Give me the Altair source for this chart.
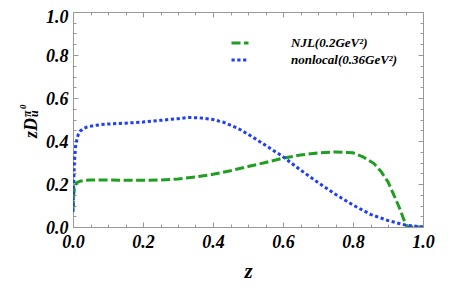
import altair as alt
import pandas as pd

# ---- data ----
series_names = ["NJL(0.2GeV²)", "nonlocal(0.36GeV²)"]
series_colors = ["#1f9e1f", "#1f3dfa"]

z_njl = [0.0, 0.002, 0.005, 0.01, 0.02, 0.03, 0.05, 0.1, 0.15, 0.2, 0.25, 0.3, 0.35,
         0.4, 0.45, 0.5, 0.55, 0.6, 0.65, 0.7, 0.75, 0.8, 0.83, 0.86, 0.88, 0.9,
         0.92, 0.935, 0.945, 0.955, 1.0]
v_njl = [0.08, 0.15, 0.19, 0.205, 0.213, 0.216, 0.219, 0.219, 0.217, 0.217, 0.219,
         0.223, 0.233, 0.245, 0.262, 0.281, 0.300, 0.320, 0.335, 0.345, 0.349, 0.345,
         0.325, 0.295, 0.258, 0.21, 0.137, 0.08, 0.035, 0.0, 0.0]

z_nl = [0.0, 0.002, 0.004, 0.007, 0.01, 0.015, 0.02, 0.03, 0.04, 0.06, 0.08, 0.1, 0.15,
        0.2, 0.25, 0.3, 0.33, 0.36, 0.4, 0.43, 0.47, 0.5, 0.55, 0.6, 0.65, 0.7, 0.75,
        0.8, 0.85, 0.9, 0.95, 1.0]
v_nl = [0.07, 0.2, 0.3, 0.37, 0.40, 0.43, 0.445, 0.458, 0.465, 0.472, 0.476, 0.479,
        0.483, 0.488, 0.496, 0.504, 0.509, 0.508, 0.500, 0.487, 0.46, 0.432, 0.38,
        0.327, 0.265, 0.207, 0.152, 0.102, 0.059, 0.03, 0.009, 0.0]

major_ticks = [0.0, 0.2, 0.4, 0.6, 0.8, 1.0]
minor_ticks = [0.05, 0.1, 0.15, 0.25, 0.3, 0.35, 0.45, 0.5, 0.55, 0.65, 0.7, 0.75, 0.85, 0.9, 0.95]

df = pd.concat([
    pd.DataFrame({"z": z_njl, "v": v_njl, "series": series_names[0]}),
    pd.DataFrame({"z": z_nl, "v": v_nl, "series": series_names[1]}),
], ignore_index=True)

FONT = "Liberation Serif"
TICK = "#999999"
xs = alt.Scale(domain=[0, 1], nice=False, zero=False)
ys = alt.Scale(domain=[0, 1], nice=False, zero=False)


def ax(orient, values, size, labels, title=None, **kw):
    return alt.Axis(orient=orient, values=values, tickSize=size, offset=-size,
                    domain=False, grid=False, labels=labels, title=title,
                    tickColor=TICK, tickWidth=1, labelFlush=False, **kw)


legend = alt.Legend(orient="none", legendX=157, legendY=21, title=None,
                    symbolType="stroke", symbolSize=289, symbolStrokeWidth=3,
                    labelOffset=41, labelFont=FONT, labelFontSize=13,
                    labelFontStyle="italic", labelFontWeight="bold",
                    labelColor="black", rowPadding=0, padding=0)

lines = alt.Chart(df).mark_line(strokeWidth=3, clip=True).encode(
    x=alt.X("z:Q", scale=xs,
            axis=ax("bottom", major_ticks, 5, True, title="z", format=".1f",
                    labelPadding=6, titlePadding=9, titleFont=FONT,
                    titleFontSize=21, titleFontStyle="italic",
                    titleFontWeight="bold", titleColor="black")),
    y=alt.Y("v:Q", scale=ys,
            axis=ax("left", major_ticks, 5, True, format=".1f", labelPadding=5,
                    labelOffset={"condition": {"test": "datum.value == 1", "value": 5},
                                 "value": 1})),
    color=alt.Color("series:N", scale=alt.Scale(domain=series_names, range=series_colors),
                    legend=legend),
    strokeDash=alt.StrokeDash("series:N",
                              scale=alt.Scale(domain=series_names, range=[[9, 3.5], [3.2, 2.6]]),
                              legend=legend),
)

def tick_layer(xorient, yorient, values, size):
    return alt.Chart(df).mark_line(opacity=0).encode(
        x=alt.X("z:Q", scale=xs, axis=ax(xorient, values, size, False)),
        y=alt.Y("v:Q", scale=ys, axis=ax(yorient, values, size, False)),
        detail="series:N",
    )

minor_bl = tick_layer("bottom", "left", minor_ticks, 3)
major_tr = tick_layer("top", "right", major_ticks, 5)
minor_tr = tick_layer("top", "right", minor_ticks, 3)

one = pd.DataFrame({"a": [0]})

def label(text, x, y, size):
    return alt.Chart(one).mark_text(
        font=FONT, fontSize=size, fontStyle="italic", fontWeight="bold",
        angle=270, align="left", baseline="alphabetic", color="black"
    ).encode(x=alt.value(x), y=alt.value(y), text=alt.value(text))

ytitle = (label("zD", -36, 126, 18) + label("u", -35, 105, 12)
          + label("π", -42, 105, 12) + label("0", -47, 97, 9))

chart = alt.layer(lines, minor_bl, major_tr, minor_tr, ytitle).resolve_axis(
    x="independent", y="independent"
).properties(
    width=350, height=215,
    autosize=alt.AutoSizeParams(type="none"),
    padding={"left": 65, "top": 4, "right": 32, "bottom": 55},
).configure_view(stroke=TICK, strokeWidth=1).configure_axis(
    labelFont=FONT, labelFontSize=18, labelFontStyle="italic",
    labelFontWeight="bold", labelColor="black"
)

chart.save("out.html", embed_options={"renderer": "svg", "actions": False})
